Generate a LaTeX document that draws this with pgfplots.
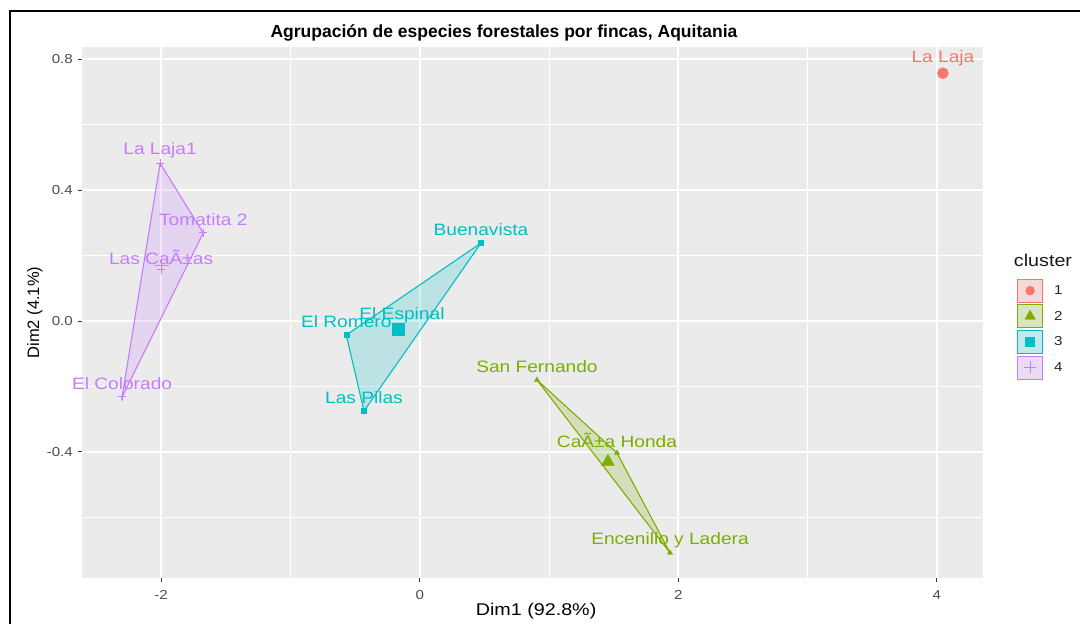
\documentclass[border=0pt]{standalone}
\usepackage{pgfplots}
\pgfplotsset{compat=1.18}
\usepackage{fontspec}
\setmainfont{Liberation Sans}[FakeStretch=1.16]
\newfontfamily\plainsans{Liberation Sans}
\definecolor{c1}{HTML}{F8766D}
\definecolor{c2}{HTML}{7CAE00}
\definecolor{c3}{HTML}{00BFC4}
\definecolor{c4}{HTML}{C77CFF}
\definecolor{panel}{HTML}{EBEBEB}
\definecolor{keybg}{HTML}{F2F2F2}
\definecolor{ticklab}{HTML}{4D4D4D}
\definecolor{tickmark}{HTML}{333333}
\newcommand\lblfont{\fontsize{16.5bp}{18bp}\selectfont}
\begin{document}
\begin{tikzpicture}
\useasboundingbox (0,0) rectangle (1080bp,624bp);
\draw[line width=2bp] (10bp,0bp) -- (10bp,613bp) -- (1080bp,613bp);
\begin{axis}[
  at={(82bp,46bp)}, anchor=south west, scale only axis,
  width=901bp, height=531bp,
  xmin=-2.612, xmax=4.357, ymin=-0.785, ymax=0.837,
  axis background/.style={fill=panel},
  axis line style={draw=none},
  xtick={-2,0,2,4}, ytick={-0.4,0,0.4,0.8},
  minor xtick={-1,1,3}, minor ytick={-0.6,-0.2,0.2,0.6},
  grid=both,
  major grid style={white, line width=1.6bp},
  minor grid style={white, line width=0.8bp},
  tick pos=left, tick align=outside,
  major tick length=4bp, minor tick length=0bp,
  tick style={color=tickmark, line width=1bp},
  /pgf/number format/assume math mode=true,
  ticklabel style={font=\fontsize{13bp}{14bp}\selectfont, text=ticklab, inner sep=0pt},
  xticklabel style={anchor=north, yshift=-8bp},
  yticklabel style={anchor=east, xshift=-5bp, /pgf/number format/.cd, fixed, fixed zerofill, precision=1},
  xlabel={Dim1 (92.8\%)},
  ylabel={Dim2 (4.1\%)},
  xlabel style={at={(axis description cs:0.504,-0.0622)}, anchor=center, font=\fontsize{17bp}{19bp}\selectfont},
  ylabel style={at={(axis description cs:-0.0522,0.5)}, anchor=center, font=\plainsans\fontsize{16.5bp}{19bp}\selectfont},
  legend style={at={(axis description cs:1.0377,0.564)}, anchor=north west,
    draw=none, fill=none, inner sep=0pt, row sep=1.7bp,
    font=\fontsize{13bp}{14bp}\selectfont, text=black!85,
    nodes={inner sep=0pt},
    /tikz/every odd column/.style={column sep=11bp}},
  legend cell align=left,
]
% hulls
\addplot[draw=c4, fill=c4, fill opacity=0.2, line width=1.1bp, forget plot]
  coordinates {(-2.008,0.482) (-1.674,0.269) (-2.302,-0.232) (-2.008,0.482)};
\addplot[draw=c3, fill=c3, fill opacity=0.2, line width=1.1bp, forget plot]
  coordinates {(0.474,0.238) (-0.568,-0.043) (-0.431,-0.275) (0.474,0.238)};
\addplot[draw=c2, fill=c2, fill opacity=0.2, line width=1.1bp, forget plot]
  coordinates {(0.907,-0.180) (1.526,-0.403) (1.936,-0.708) (0.907,-0.180)};
% points with labels
\addplot[c4, only marks, mark=+, mark size=4bp, line width=1bp, forget plot,
  nodes near coords, point meta=explicit symbolic,
  every node near coord/.append style={anchor=center, yshift=13bp, font=\lblfont, text=c4}]
  table[x=x, y=y, meta=label, col sep=comma, row sep=\\] {
x,y,label\\
-2.008,0.482,La Laja1\\
-1.674,0.269,Tomatita 2\\
-2.000,0.156,Las CaÃ±as\\
-2.302,-0.232,El Colorado\\
};
\addplot[c3, only marks, mark=square*, mark size=2.5bp, forget plot,
  nodes near coords, point meta=explicit symbolic,
  every node near coord/.append style={anchor=center, yshift=13bp, font=\lblfont, text=c3}]
  table[x=x, y=y, meta=label, col sep=comma, row sep=\\] {
x,y,label\\
0.474,0.238,Buenavista\\
-0.568,-0.043,El Romero\\
-0.431,-0.275,Las Pilas\\
-0.137,-0.021,El Espinal\\
};
\addplot[c2, only marks, mark=triangle*, mark size=3bp, forget plot,
  nodes near coords, point meta=explicit symbolic,
  every node near coord/.append style={anchor=center, yshift=13bp, font=\lblfont, text=c2}]
  table[x=x, y=y, meta=label, col sep=comma, row sep=\\] {
x,y,label\\
0.907,-0.180,San Fernando\\
1.526,-0.403,CaÃ±a Honda\\
1.936,-0.708,Encenillo y Ladera\\
};
\addplot[c1, only marks, mark=*, mark size=5.5bp, forget plot,
  nodes near coords, point meta=explicit symbolic,
  every node near coord/.append style={anchor=center, yshift=15bp, font=\lblfont, text=c1}]
  table[x=x, y=y, meta=label, col sep=comma, row sep=\\] {
x,y,label\\
4.047,0.757,La Laja\\
};
% centroids
\addplot[c4, only marks, mark=+, mark size=7bp, line width=1.3bp, forget plot] coordinates {(-1.996,0.169)};
\addplot[c3, only marks, mark=square*, mark size=6bp, forget plot] coordinates {(-0.166,-0.025)};
\addplot[c2, only marks, mark=triangle*, mark size=7.5bp, forget plot] coordinates {(1.456,-0.430)};
% legend
\addlegendimage{legend image code/.code={
  \draw[draw=c1, fill=c1!20!keybg, line width=0.9bp] (0bp,-11.5bp) rectangle (25bp,11.5bp);
  \draw[c1, mark=*, mark size=4.5bp] plot coordinates {(12.5bp,0bp)};}}
\addlegendentry{1}
\addlegendimage{legend image code/.code={
  \draw[draw=c2, fill=c2!20!keybg, line width=0.9bp] (0bp,-11.5bp) rectangle (25bp,11.5bp);
  \draw[c2, mark=triangle*, mark size=6bp] plot coordinates {(12.5bp,0bp)};}}
\addlegendentry{2}
\addlegendimage{legend image code/.code={
  \draw[draw=c3, fill=c3!20!keybg, line width=0.9bp] (0bp,-11.5bp) rectangle (25bp,11.5bp);
  \draw[c3, mark=square*, mark size=4.5bp] plot coordinates {(12.5bp,0bp)};}}
\addlegendentry{3}
\addlegendimage{legend image code/.code={
  \draw[draw=c4, fill=c4!20!keybg, line width=0.9bp] (0bp,-11.5bp) rectangle (25bp,11.5bp);
  \draw[c4, mark=+, mark size=6bp, line width=1.2bp] plot coordinates {(12.5bp,0bp)};}}
\addlegendentry{4}
\end{axis}
\node[font=\plainsans\bfseries\fontsize{17.5bp}{20bp}\selectfont] at (504bp,591bp) {Agrupación de especies forestales por fincas, Aquitania};
\node[font=\fontsize{17bp}{19bp}\selectfont, text=black!90] at (1043bp,364bp) {cluster};
\end{tikzpicture}
\end{document}
